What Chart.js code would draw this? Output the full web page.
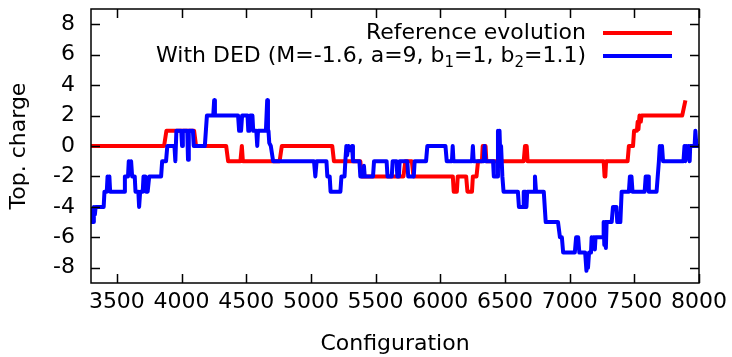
<!DOCTYPE html>
<html lang="en">
  <head>
    <meta charset="UTF-8" />
    <title>Top. charge vs configuration</title>
    <script src="https://cdn.jsdelivr.net/npm/chart.js"></script>
    <style>
      body { margin: 0; background: #fff; }
    </style>
  </head>
  <body>
    <canvas id="myChart" width="732" height="357"></canvas>
    <script>
      // reference evolution (red)
      var refConfig = [3300, 3865, 3883, 4097, 4112, 4345, 4360, 4455, 4466, 4474, 4758, 4775, 5165, 5178,
        5382, 5393, 5715, 5730, 5780, 5793, 6097, 6104, 6128, 6135, 6200, 6210, 6245, 6252, 6280, 6292,
        6322, 6328, 6350, 6356, 6645, 6655, 6668, 6675, 7263, 7270, 7276, 7282, 7448, 7458, 7490, 7498,
        7520, 7526, 7532, 7540, 7550, 7556, 7870, 7895]
      var refCharge = [0, 0, 1, 1, 0, 0, -1, -1, 0, -1, -1, 0, 0, -1,
        -1, -2, -2, -1, -1, -2, -2, -3, -3, -2, -2, -3, -3, -2, -2, -1,
        -1, 0, 0, -1, -1, 0, 0, -1, -1, -2, -2, -1, -1, 0, 0, 1,
        1, 1.6, 1.1, 2, 1.6, 2, 2, 3]

      // with DED (blue)
      var dedConfig = [3305, 3309, 3314, 3318, 3322, 3330, 3336, 3398, 3404, 3422, 3428, 3436, 3442, 3448,
        3556, 3562, 3586, 3592, 3604, 3610, 3618, 3638, 3644, 3666, 3672, 3680, 3700, 3706, 3720, 3726,
        3732, 3738, 3750, 3842, 3850, 3880, 3890, 3945, 3952, 3960, 3998, 4004, 4010, 4044, 4050, 4056,
        4088, 4094, 4180, 4196, 4245, 4252, 4258, 4437, 4445, 4460, 4468, 4510, 4516, 4524, 4530, 4548,
        4554, 4578, 4585, 4591, 4652, 4662, 4668, 4672, 4678, 4690, 4708,
        5024, 5034, 5044, 5120, 5127, 5145, 5152, 5228, 5236, 5260, 5266, 5274, 5280, 5290, 5310, 5318,
        5325, 5375, 5382, 5405, 5410, 5416, 5480, 5488, 5585, 5592, 5625, 5632, 5662, 5668, 5680, 5686,
        5745, 5752, 5795, 5802, 5890, 5900, 6040, 6050, 6090, 6096, 6102, 6245, 6252, 6258, 6336, 6342,
        6350, 6408, 6414, 6440, 6446, 6452, 6458, 6465, 6470, 6480, 6489, 6600, 6608, 6640, 6645, 6660,
        6666, 6672, 6726, 6732, 6740, 6800, 6815, 6910, 6925, 6940, 6950, 7040, 7050, 7066, 7075, 7120,
        7130, 7136, 7142, 7150, 7165, 7170, 7178, 7186, 7195, 7200, 7258, 7263, 7268, 7274, 7280, 7286,
        7325, 7335, 7362, 7368, 7392, 7402, 7458, 7466, 7478, 7486, 7580, 7588, 7606, 7612, 7672, 7690,
        7697, 7706, 7714, 7722, 7880, 7888, 7895, 7902, 7910, 7918, 7928, 7932, 7966, 7972, 7980, 8000]
      var dedCharge = [-4, -5, -4.2, -5, -4, -4.5, -4, -4, -3, -3, -2, -2.3, -2, -3,
        -3, -2, -2, -1, -1.2, -1, -2, -2, -3, -3, -4, -3, -3, -2, -2, -3,
        -2.4, -3, -2, -2, -1, -1, 0, 0, -1, 1, 1, 0, 1, 1, -0.9, 1,
        1, 0, 0, 2, 2, 3, 2, 2, 1, 1, 2, 2, 1, 1, 2, 2,
        1, 1, 0, 1, 1, 3, 1, 1, 0.2, 0, -1,
        -1, -2, -1, -1, -2, -2, -3, -3, -2, -2, -1, 0, -0.6, 0, -0.3, 0,
        -1, -1, -2, -2, -1.3, -2, -2, -1, -1, -2, -2, -1, -1, -2, -2, -1,
        -1, -2, -2, -1, -1, 0, 0, -1, -1, 0, -1, -1, 0, -1, -1, 0,
        -1, -1, -2, -2, 1, 0, 1, -1, 0, -2, -3, -3, -4, -4, -3, -3,
        -4, -3, -3, -2, -3, -3, -5, -5, -6, -6, -7, -7, -6, -6, -7, -7,
        -8.2, -7.5, -8, -7, -7, -6, -6.5, -6, -6.8, -6, -6, -5, -6.5, -5, -6.7, -5,
        -5, -4, -4, -5, -5, -3, -3, -2, -2, -3, -3, -2, -2, -3, -3, -1,
        0, -0.7, 0, -1, -1, 0, -1, 0, -0.8, 0, -1, 0, 0, 1, 0, 0]

      var xTicks = [3500, 4000, 4500, 5000, 5500, 6000, 6500, 7000, 7500, 8000]
      var yTicks = [-8, -6, -4, -2, 0, 2, 4, 6, 8]

      // legend rows: text pieces, 1 = subscript
      var legendRows = [
        { color: "#ff0000", parts: [["Reference evolution", 0]] },
        { color: "#0000ff", parts: [["With DED (M=-1.6, a=9, b", 0], ["1", 1], ["=1, b", 0], ["2", 1], ["=1.1)", 0]] },
      ]

      var fontFamily = "'DejaVu Sans', sans-serif"
      var fontSize = 22
      Chart.defaults.font.family = fontFamily
      Chart.defaults.color = "#000"

      function points(xs, ys) {
        return xs.map(function (x, i) {
          return { x: x, y: ys[i] }
        })
      }

      var framePlugin = {
        id: "frame",
        afterDraw: function (chart) {
          var ctx = chart.ctx
          var a = chart.chartArea
          var xs = chart.scales.x
          var ys = chart.scales.y
          var tl = 9
          ctx.save()
          ctx.strokeStyle = "#000"
          ctx.lineWidth = 1.5
          ctx.beginPath()
          xTicks.forEach(function (v) {
            var px = Math.round(xs.getPixelForValue(v)) + 0.5
            ctx.moveTo(px, a.bottom)
            ctx.lineTo(px, a.bottom - tl)
            ctx.moveTo(px, a.top)
            ctx.lineTo(px, a.top + tl)
          })
          yTicks.forEach(function (v) {
            var py = Math.round(ys.getPixelForValue(v)) + 0.5
            ctx.moveTo(a.left, py)
            ctx.lineTo(a.left + tl, py)
            ctx.moveTo(a.right, py)
            ctx.lineTo(a.right - tl, py)
          })
          ctx.stroke()
          ctx.strokeRect(a.left, a.top, a.right - a.left, a.bottom - a.top)

          // key, top right inside the frame
          var textRight = 586
          var lineX0 = 603
          var lineX1 = 672
          ctx.fillStyle = "#000"
          ctx.textBaseline = "middle"
          ctx.textAlign = "left"
          legendRows.forEach(function (row, r) {
            var y = 33 + r * 23
            var total = 0
            row.parts.forEach(function (p) {
              ctx.font = (p[1] ? 15 : fontSize) + "px " + fontFamily
              total += ctx.measureText(p[0]).width
            })
            var x = textRight - total
            row.parts.forEach(function (p) {
              ctx.font = (p[1] ? 15 : fontSize) + "px " + fontFamily
              ctx.fillText(p[0], x, p[1] ? y + 7 : y)
              x += ctx.measureText(p[0]).width
            })
            ctx.strokeStyle = row.color
            ctx.lineWidth = 4
            ctx.beginPath()
            ctx.moveTo(lineX0, y)
            ctx.lineTo(lineX1, y)
            ctx.stroke()
          })
          ctx.restore()
        },
      }

      var ctx = document.getElementById("myChart").getContext("2d")
      var myChart = new Chart(ctx, {
        type: "line",
        data: {
          datasets: [
            {
              label: "With DED (M=-1.6, a=9, b1=1, b2=1.1)",
              data: points(dedConfig, dedCharge),
              borderColor: "#0000ff",
              borderWidth: 4,
              borderJoinStyle: "round",
              pointRadius: 0,
              order: 0,
            },
            {
              label: "Reference evolution",
              data: points(refConfig, refCharge),
              borderColor: "#ff0000",
              borderWidth: 4,
              borderJoinStyle: "round",
              pointRadius: 0,
              order: 1,
            },
          ],
        },
        options: {
          responsive: false,
          animation: false,
          devicePixelRatio: 1,
          layout: { padding: { top: 9, right: 33, left: 0, bottom: 0 } },
          plugins: {
            legend: { display: false },
            tooltip: { enabled: false },
          },
          scales: {
            x: {
              type: "linear",
              min: 3300,
              max: 8000,
              grid: { display: false, drawTicks: false },
              border: { display: false },
              afterBuildTicks: function (s) {
                s.ticks = xTicks.map(function (v) { return { value: v } })
              },
              afterFit: function (s) {
                s.height = 74
                s.paddingLeft = 0
                s.paddingRight = 0
              },
              ticks: {
                padding: 6,
                maxRotation: 0,
                autoSkip: false,
                font: { size: fontSize },
                callback: function (v) { return String(v) },
              },
              title: { display: true, text: "Configuration", font: { size: fontSize }, padding: 0 },
            },
            y: {
              type: "linear",
              min: -9,
              max: 9,
              grid: { display: false, drawTicks: false },
              border: { display: false },
              afterBuildTicks: function (s) {
                s.ticks = yTicks.map(function (v) { return { value: v } })
              },
              afterFit: function (s) {
                s.width = 91
                s.paddingTop = 0
                s.paddingBottom = 0
              },
              ticks: { padding: 16, font: { size: fontSize }, callback: function (v) { return String(v) } },
              title: { display: true, text: "Top. charge", font: { size: fontSize }, padding: { top: 6, bottom: 0 } },
            },
          },
        },
        plugins: [framePlugin],
      })
    </script>
  </body>
</html>
